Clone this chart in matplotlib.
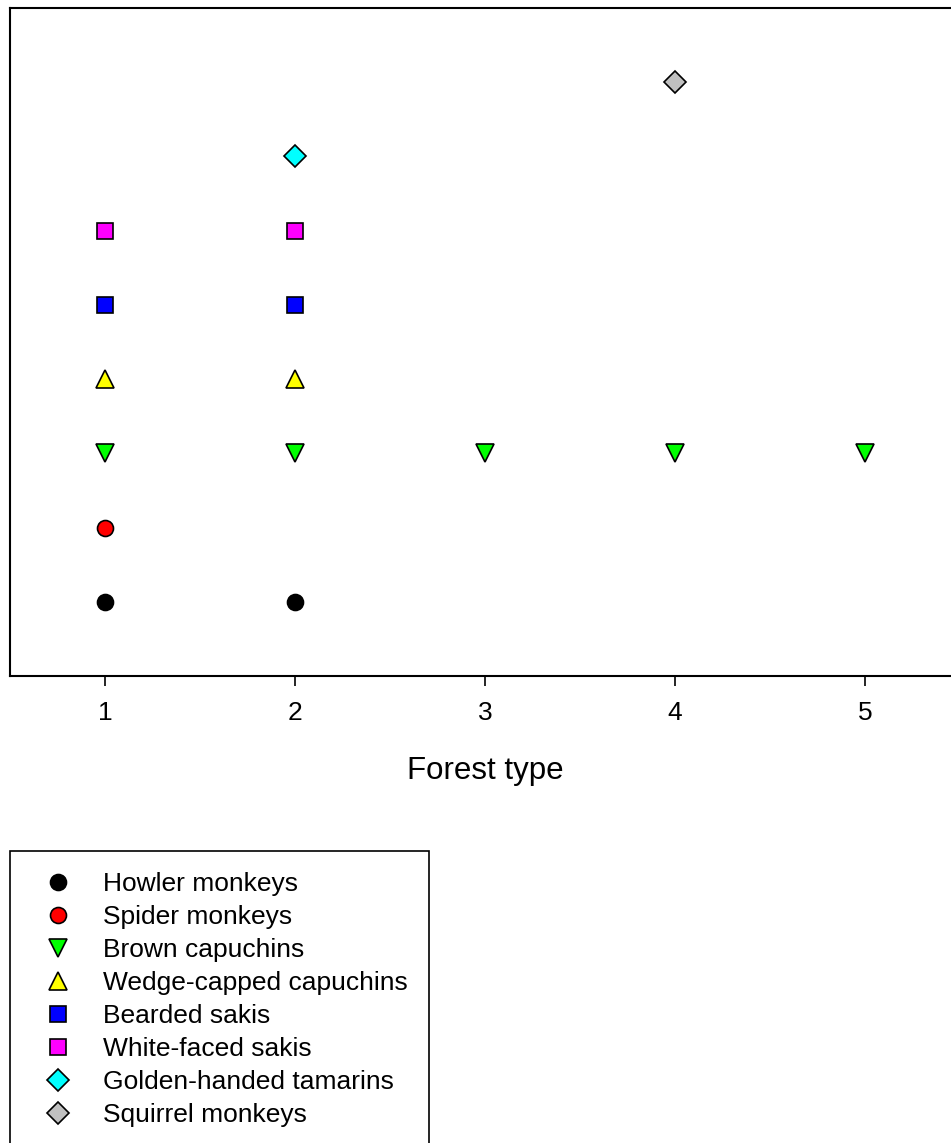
import matplotlib.pyplot as plt

plt.rcParams['font.family'] = ['Liberation Sans', 'DejaVu Sans']

# species shown on the y axis (one row each), bottom to top
species = ["Howler monkeys", "Spider monkeys", "Brown capuchins",
           "Wedge-capped capuchins", "Bearded sakis", "White-faced sakis",
           "Golden-handed tamarins", "Squirrel monkeys"]
row = [1, 2, 3, 4, 5, 6, 7, 8]

# forest types where each species was recorded
howler = [1, 2]
spider = [1]
brown_cap = [1, 2, 3, 4, 5]
wedge_cap = [1, 2]
bearded = [1, 2]
white_faced = [1, 2]
golden = [2]
squirrel = [4]
forest_types = [howler, spider, brown_cap, wedge_cap, bearded,
                white_faced, golden, squirrel]

x_ticks = [1, 2, 3, 4, 5]

markers = ["o", "o", "v", "^", "s", "s", "D", "D"]
colors = ["black", "red", "#00ff00", "yellow", "blue", "magenta", "cyan", "#c0c0c0"]
sizes = [11.5, 11.5, 13, 13, 11, 11, 10.8, 10.8]

W, H = 951, 1143
fig = plt.figure(figsize=(W / 100, H / 100), dpi=100)
left, right, top, bottom = 10, 960, 8, 676
ax = fig.add_axes([left / W, 1 - bottom / H, (right - left) / W, (bottom - top) / H])

handles = []
for i in range(len(species)):
    xs = forest_types[i]
    ys = [row[i]] * len(xs)
    h, = ax.plot(xs, ys, linestyle="none", marker=markers[i], markersize=sizes[i],
                 markerfacecolor=colors[i], markeredgecolor="black",
                 markeredgewidth=1.2, label=species[i])
    handles.append(h)

ax.set_xlim(0.5, 5.5)
ax.set_ylim(0, 9)
ax.set_xticks(x_ticks)
ax.set_yticks([])
for s in ax.spines.values():
    s.set_linewidth(1.5)
ax.tick_params(axis="x", direction="out", length=7, width=1.2, pad=11, labelsize=19)
ax.set_xlabel("Forest type", fontsize=22.5, labelpad=22)

fig.legend(handles=handles, loc="upper left",
           bbox_to_anchor=(10 / W, 1 - 851 / H), borderaxespad=0,
           fontsize=19, frameon=True, fancybox=False, edgecolor="black",
           framealpha=1, borderpad=0.8, handlelength=2.05, handletextpad=0.68,
           labelspacing=0.34)
fig.legends[0].get_frame().set_linewidth(1.2)

fig.savefig("out.png", dpi=100)
